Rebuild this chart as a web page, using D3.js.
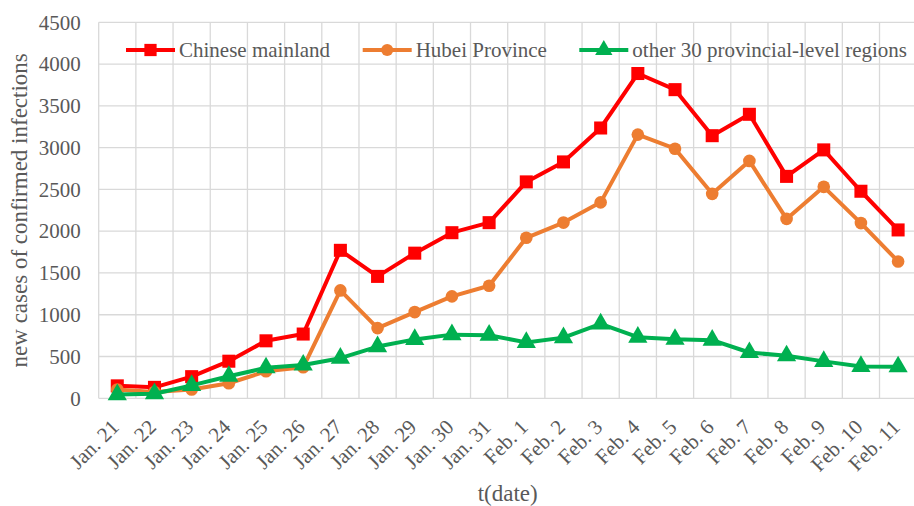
<!DOCTYPE html>
<html>
<head>
<meta charset="utf-8">
<script src="https://cdn.jsdelivr.net/npm/d3@7/dist/d3.min.js"></script>
<style>
  html, body { margin: 0; padding: 0; background: #fff; }
  svg { display: block; }
  text { font-family: "Liberation Serif", "Times New Roman", serif; fill: #595959; }
</style>
</head>
<body>
<svg id="chart" width="914" height="506"></svg>
<script>
const categories = ["Jan. 21","Jan. 22","Jan. 23","Jan. 24","Jan. 25","Jan. 26","Jan. 27","Jan. 28","Jan. 29","Jan. 30","Jan. 31","Feb. 1","Feb. 2","Feb. 3","Feb. 4","Feb. 5","Feb. 6","Feb. 7","Feb. 8","Feb. 9","Feb. 10","Feb. 11"];
const mainland = [149,131,259,444,688,769,1771,1459,1737,1982,2102,2590,2829,3235,3887,3694,3143,3399,2656,2973,2478,2015];
const hubei    = [105,76,105,180,323,371,1291,840,1032,1220,1347,1921,2103,2345,3156,2987,2447,2841,2147,2531,2097,1638];
const others   = [44,55,154,264,365,398,480,619,705,762,755,669,726,890,731,707,696,548,509,442,381,377];
const yTicks = [0,500,1000,1500,2000,2500,3000,3500,4000,4500];
const seriesNames = ["Chinese mainland","Hubei Province","other 30 provincial-level regions"];
const seriesColors = ["#ff0000","#ed7d31","#00b050"];
const seriesShapes = [d3.symbolSquare, d3.symbolCircle, d3.symbolTriangle];

const svg = d3.select("#chart");
const pLeft = 98.7, pRight = 916.7, pTop = 22.3, pBottom = 398.3;

const x = d3.scaleBand().domain(categories).range([pLeft, pRight]).paddingInner(0).paddingOuter(0);
const y = d3.scaleLinear().domain([0, 4500]).range([pBottom, pTop]);
const cx = d => x(d) + x.bandwidth() / 2;

// gridlines
const g = svg.append("g");
g.selectAll("line.h").data(yTicks).enter().append("line")
  .attr("x1", pLeft).attr("x2", pRight)
  .attr("y1", d => y(d)).attr("y2", d => y(d))
  .attr("stroke", "#d9d9d9").attr("stroke-width", 1.3);
const vx = categories.map(c => x(c)).concat([pRight]);
g.selectAll("line.v").data(vx).enter().append("line")
  .attr("x1", d => d).attr("x2", d => d)
  .attr("y1", pTop).attr("y2", pBottom)
  .attr("stroke", "#d9d9d9").attr("stroke-width", 1.3);

// y axis labels
const yAxis = d3.axisLeft(y).tickValues(yTicks).tickFormat(d3.format("d")).tickSize(0).tickPadding(18);
const ya = svg.append("g").attr("transform", `translate(${pLeft},0)`).call(yAxis);
ya.select(".domain").remove();
ya.selectAll("text").style("font-size", "21px").style("font-family", "'Liberation Serif', serif").attr("fill", "#595959");

// x axis labels
const xAxis = d3.axisBottom(x).tickSize(0).tickPadding(0);
const xa = svg.append("g").attr("transform", `translate(0,${pBottom})`).call(xAxis);
xa.select(".domain").remove();
xa.selectAll("text")
  .style("font-size", "21px").style("font-family", "'Liberation Serif', serif").attr("fill", "#595959")
  .attr("text-anchor", "end")
  .attr("dy", 0).attr("y", 0)
  .attr("transform", "translate(3,30) rotate(-45)");

// series
const data = [mainland, hubei, others];
const line = d3.line().x((d, i) => cx(categories[i])).y(d => y(d));
data.forEach((vals, si) => {
  const sg = svg.append("g");
  sg.append("path").datum(vals).attr("d", line)
    .attr("fill", "none").attr("stroke", seriesColors[si]).attr("stroke-width", 4).attr("stroke-linejoin", "round");
  const sizes = [170, 125, 160];
  sg.selectAll("path.m").data(vals).enter().append("path")
    .attr("d", d3.symbol().type(seriesShapes[si]).size(sizes[si]))
    .attr("transform", (d, i) => `translate(${cx(categories[i])},${y(d)})`)
    .attr("fill", seriesColors[si]);
});

// legend
const legX = [126, 362.7, 579.3];
const legY = 50;
seriesNames.forEach((n, i) => {
  const lg = svg.append("g");
  lg.append("line").attr("x1", legX[i]).attr("x2", legX[i] + 49).attr("y1", legY).attr("y2", legY)
    .attr("stroke", seriesColors[i]).attr("stroke-width", 4);
  const sizes = [150, 115, 130];
  lg.append("path").attr("d", d3.symbol().type(seriesShapes[i]).size(sizes[i]))
    .attr("transform", `translate(${legX[i] + 24.5},${legY})`).attr("fill", seriesColors[i]);
  lg.append("text").attr("x", legX[i] + 53).attr("y", legY).attr("dy", "0.35em")
    .style("font-size", "21px").text(n);
});

// axis titles
svg.append("text").attr("x", (pLeft + pRight) / 2).attr("y", 501)
  .attr("text-anchor", "middle").style("font-size", "23px").text("t(date)");
svg.append("text").attr("transform", `translate(27,${(pTop + pBottom) / 2}) rotate(-90)`)
  .attr("text-anchor", "middle").style("font-size", "23px").text("new cases of confirmed infections");
</script>
</body>
</html>
